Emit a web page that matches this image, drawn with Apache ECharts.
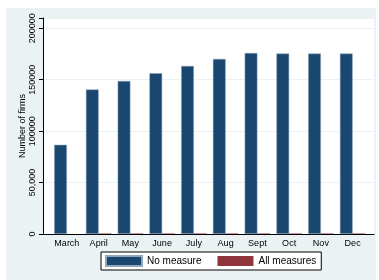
<!DOCTYPE html>
<html><head><meta charset="utf-8">
<script src="https://cdn.jsdelivr.net/npm/echarts@6/dist/echarts.min.js"></script>
<style>html,body{margin:0;padding:0;background:#fff}#c{width:379px;height:280px}</style>
</head><body><div id="c"></div>
<script>
const categories = ['March','April','May','June','July','Aug','Sept','Oct','Nov','Dec'];
const noMeasure = [86700, 140500, 148800, 156300, 163400, 170200, 176000, 175400, 175400, 175400];
const allMeasures = [0, 500, 500, 500, 500, 500, 500, 500, 500, 500];
const yTickValues = [0, 50000, 100000, 150000, 200000];
const yTickLabels = ['0', '50,000', '100000', '150000', '200000'];
const seriesNames = ['No measure', 'All measures'];

const FONT = 'Liberation Sans, Arial, sans-serif';
const chart = echarts.init(document.getElementById('c'), null, {renderer: 'canvas'});
const yMin = 0, yMax = 210000;
chart.setOption({
  animation: false,
  backgroundColor: '#ffffff',
  grid: [
    {left: 6, right: 3, top: 8, bottom: 0, show: true, backgroundColor: '#eaf2f3', borderWidth: 0},
    {left: 43, right: 5, top: 18, bottom: 46, show: true, backgroundColor: '#ffffff', borderWidth: 0},
    {left: 51, right: 10.5, top: 18, bottom: 46}
  ],
  xAxis: [
    {gridIndex: 0, type: 'value', show: false},
    {gridIndex: 1, type: 'value', min: 0, max: 1, axisLine: {show: true, lineStyle: {color: '#000', width: 1}},
     axisTick: {show: false}, axisLabel: {show: false}, splitLine: {show: false}},
    {gridIndex: 2, type: 'category', data: categories, boundaryGap: true,
     axisLine: {show: false}, axisTick: {show: false},
     axisLabel: {color: '#000', fontSize: 9, fontFamily: FONT, margin: 5, interval: 0}}
  ],
  yAxis: [
    {gridIndex: 0, type: 'value', show: false},
    {gridIndex: 1, type: 'value', min: yMin, max: yMax, interval: 50000,
     name: 'Number of firms', nameLocation: 'middle', nameGap: 16, nameRotate: 90,
     nameMoveOverlap: false,
     nameTextStyle: {color: '#000', fontSize: 9, fontFamily: FONT},
     axisLine: {show: true, lineStyle: {color: '#000', width: 1}},
     axisTick: {show: true, length: 4, lineStyle: {color: '#000'}},
     axisLabel: {rotate: 90, color: '#000', fontSize: 9, fontFamily: FONT, margin: 6,
       formatter: function (v) { const i = yTickValues.indexOf(v); return i >= 0 ? yTickLabels[i] : ''; }},
     splitLine: {show: true, lineStyle: {color: '#eaf2f3', width: 1}}},
    {gridIndex: 2, type: 'value', min: yMin, max: yMax, show: false}
  ],
  legend: {
    data: seriesNames, left: 101, top: 252,
    itemWidth: 36, itemHeight: 10, itemGap: 16,
    padding: [3, 5, 3, 4],
    backgroundColor: '#ffffff', borderColor: '#000', borderWidth: 1,
    textStyle: {color: '#000', fontSize: 10, fontFamily: FONT},
    icon: 'rect'
  },
  series: [
    {name: seriesNames[0], type: 'bar', xAxisIndex: 2, yAxisIndex: 2, data: noMeasure,
     barGap: '0%', barCategoryGap: '20%',
     itemStyle: {color: '#1a476f', borderColor: '#8fa6ba', borderWidth: 0.5}},
    {name: seriesNames[1], type: 'bar', xAxisIndex: 2, yAxisIndex: 2, data: allMeasures,
     itemStyle: {color: '#90353b'}}
  ]
});
</script></body></html>
